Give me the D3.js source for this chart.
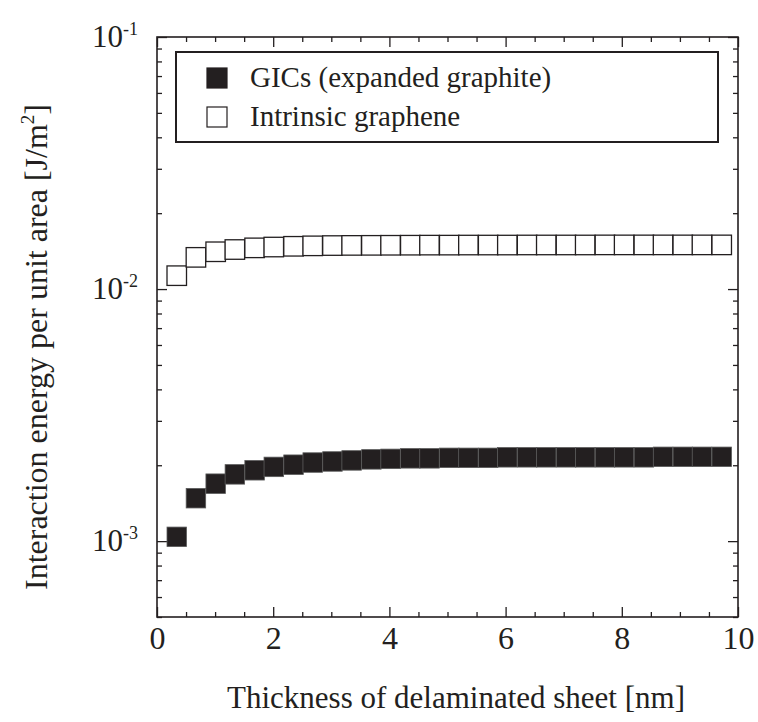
<!DOCTYPE html>
<html>
<head>
<meta charset="utf-8">
<script src="https://cdn.jsdelivr.net/npm/d3@7"></script>
</head>
<body style="margin:0;background:#fff">
<div id="chart"></div>
<script>
// Sheet thickness in nm (multiples of one graphene layer)
const thickness = [0.34, 0.67, 1.01, 1.34, 1.68, 2.01, 2.35, 2.68, 3.02, 3.35,
  3.69, 4.02, 4.36, 4.69, 5.03, 5.36, 5.70, 6.03, 6.37, 6.70,
  7.04, 7.37, 7.71, 8.04, 8.38, 8.71, 9.05, 9.38, 9.72];

// Interaction energy per unit area, J/m^2
const gicEnergy = [0.00104, 0.00148, 0.00169, 0.00184, 0.00191, 0.00197, 0.00201, 0.00205, 0.00207, 0.00209,
  0.00211, 0.00212, 0.00213, 0.00213, 0.00214, 0.00214, 0.00214, 0.00215, 0.00215, 0.00215,
  0.00215, 0.00215, 0.00215, 0.00215, 0.00215, 0.00216, 0.00216, 0.00216, 0.00216];
const grapheneEnergy = [0.0113, 0.01336, 0.01406, 0.01435, 0.01457, 0.01468, 0.01478, 0.01484, 0.01488, 0.0149,
  0.01491, 0.01492, 0.01493, 0.01494, 0.01494, 0.01495, 0.01495, 0.01495, 0.01496, 0.01496,
  0.01496, 0.01496, 0.01497, 0.01497, 0.01497, 0.01497, 0.01497, 0.01497, 0.01497];

const seriesNames = ['GICs (expanded graphite)', 'Intrinsic graphene'];

const xMajorTicks = [0, 2, 4, 6, 8, 10];
const xMinorTicks = [0.5, 1, 1.5, 2.5, 3, 3.5, 4.5, 5, 5.5, 6.5, 7, 7.5, 8.5, 9, 9.5];
const yMajorTicks = [0.001, 0.01, 0.1];
const yMajorExponents = ['-3', '-2', '-1'];
const yMinorTicks = [5e-4, 6e-4, 7e-4, 8e-4, 9e-4,
  2e-3, 3e-3, 4e-3, 5e-3, 6e-3, 7e-3, 8e-3, 9e-3,
  2e-2, 3e-2, 4e-2, 5e-2, 6e-2, 7e-2, 8e-2, 9e-2];

const INK = '#231f20';
// one family only: a fallback list is not picked up by the renderer
const FONT = 'Liberation Serif';
const width = 758;
const height = 722;
const margin = { top: 37, right: 20, bottom: 105, left: 157 };
const innerWidth = width - margin.left - margin.right;
const innerHeight = height - margin.top - margin.bottom;
const SQ = 19.5;

const svg = d3.select('#chart').append('svg')
  .attr('width', width)
  .attr('height', height)
  .style('display', 'block');
svg.append('rect').attr('width', width).attr('height', height).attr('fill', '#fff');

const g = svg.append('g').attr('transform', `translate(${margin.left},${margin.top})`);

const x = d3.scaleLinear().domain([0, 10]).range([0, innerWidth]);
const y = d3.scaleLog().domain([5e-4, 0.1]).range([innerHeight, 0]);

// inward ticks on all four sides; labels only bottom and left
function tickAxis(axis, size, values, label) {
  const a = axis.tickValues(values).tickSizeInner(-size).tickSizeOuter(0);
  if (!label) a.tickFormat('');
  return a;
}

const xLab = g.append('g').attr('transform', `translate(0,${innerHeight})`)
  .call(tickAxis(d3.axisBottom(x), 10, xMajorTicks, true).tickFormat(d3.format('d')).tickPadding(9));
g.append('g').attr('transform', `translate(0,${innerHeight})`).call(tickAxis(d3.axisBottom(x), 5, xMinorTicks, false));
g.append('g').call(tickAxis(d3.axisTop(x), 10, xMajorTicks, false));
g.append('g').call(tickAxis(d3.axisTop(x), 5, xMinorTicks, false));

const yLab = g.append('g').call(tickAxis(d3.axisLeft(y), 10, yMajorTicks, true).tickFormat(() => 'x').tickPadding(19));
g.append('g').call(tickAxis(d3.axisLeft(y), 5, yMinorTicks, false));
g.append('g').attr('transform', `translate(${innerWidth},0)`).call(tickAxis(d3.axisRight(y), 10, yMajorTicks, false));
g.append('g').attr('transform', `translate(${innerWidth},0)`).call(tickAxis(d3.axisRight(y), 5, yMinorTicks, false));

g.selectAll('.domain').remove();
// unlabeled axes still leave empty text nodes behind
g.selectAll('.tick text').filter(function () { return this.textContent === ''; }).remove();
g.selectAll('g').attr('font-family', FONT);
g.selectAll('.tick line').attr('stroke', INK).attr('stroke-width', 1.3);

xLab.selectAll('.tick text')
  .style('font-family', FONT)
  .attr('font-size', 32)
  .attr('fill', INK);

// 10^n labels with a raised exponent
yLab.selectAll('.tick text').each(function (d, i) {
  const t = d3.select(this)
    .style('font-family', FONT)
    .attr('font-size', 31)
    .attr('fill', INK)
    .attr('dy', '0.3em');
  t.text(null);
  t.append('tspan').text('10');
  t.append('tspan').attr('font-size', 18).attr('dy', -12).text(yMajorExponents[i]);
});

// frame
g.append('rect')
  .attr('width', innerWidth)
  .attr('height', innerHeight)
  .attr('fill', 'none')
  .attr('stroke', INK)
  .attr('stroke-width', 1.6);

// data squares
g.selectAll('rect.graphene')
  .data(thickness.map((t, i) => ({ t, v: grapheneEnergy[i] })))
  .join('rect')
  .attr('class', 'graphene')
  .attr('x', (d) => x(d.t) - SQ / 2)
  .attr('y', (d) => y(d.v) - SQ / 2)
  .attr('width', SQ)
  .attr('height', SQ)
  .attr('fill', '#fff')
  .attr('stroke', INK)
  .attr('stroke-width', 1.3);

g.selectAll('rect.gic')
  .data(thickness.map((t, i) => ({ t, v: gicEnergy[i] })))
  .join('rect')
  .attr('class', 'gic')
  .attr('x', (d) => x(d.t) - SQ / 2)
  .attr('y', (d) => y(d.v) - SQ / 2)
  .attr('width', SQ)
  .attr('height', SQ)
  .attr('fill', INK)
  .attr('stroke', '#5a5a5a')
  .attr('stroke-width', 0.8);

// legend
const legend = g.append('g').attr('transform', 'translate(19,15)');
legend.append('rect')
  .attr('width', 542)
  .attr('height', 90)
  .attr('fill', '#fff')
  .attr('stroke', INK)
  .attr('stroke-width', 2);
seriesNames.forEach((name, i) => {
  const row = legend.append('g').attr('transform', `translate(31,${16 + i * 39})`);
  row.append('rect')
    .attr('width', 20)
    .attr('height', 20)
    .attr('fill', i === 0 ? INK : '#fff')
    .attr('stroke', INK)
    .attr('stroke-width', 1.2);
  row.append('text')
    .attr('x', 43)
    .attr('y', 19)
    .attr('fill', INK)
    .attr('font-size', 29)
    .style('font-family', FONT)
    .text(name);
});

// axis titles
svg.append('text')
  .attr('x', 456)
  .attr('y', 708)
  .attr('text-anchor', 'middle')
  .attr('fill', INK)
  .attr('font-size', 31)
  .style('font-family', FONT)
  .text('Thickness of delaminated sheet [nm]');

const yt = svg.append('text')
  .attr('transform', 'translate(47,347) rotate(-90)')
  .attr('text-anchor', 'middle')
  .attr('fill', INK)
  .attr('font-size', 32)
  .style('font-family', FONT);
yt.append('tspan').text('Interaction energy per unit area [J/m');
yt.append('tspan').attr('font-size', 19).attr('dy', -13).text('2');
yt.append('tspan').attr('dy', 13).text(']');
</script>
</body>
</html>
